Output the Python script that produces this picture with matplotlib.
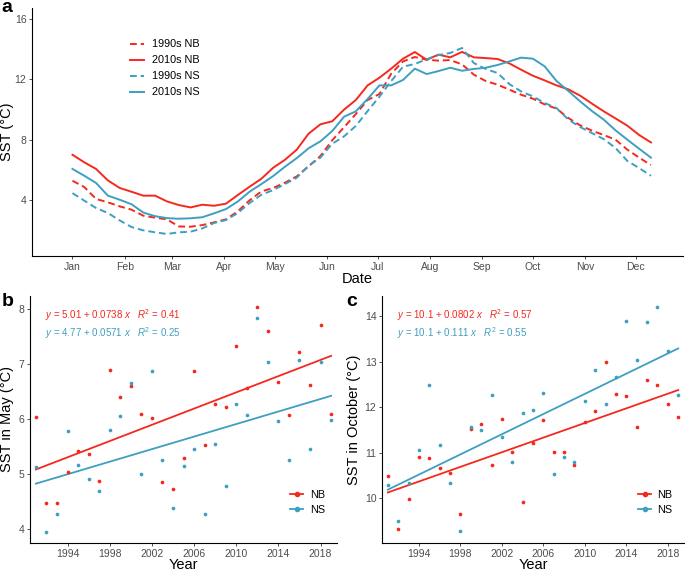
import numpy as np
import pandas as pd
import matplotlib
matplotlib.use("Agg")
import matplotlib.pyplot as plt
import matplotlib.dates as mdates
from matplotlib.lines import Line2D

RED = "#f5281e"
BLUE = "#3e9fc0"
TICK_GREY = "#4d4d4d"

# weekly climatology (50 weeks, starting 1 Jan)
weeks = pd.date_range("2019-01-01", periods=50, freq="7D")
nb_1990 = [5.28, 4.86, 4.07, 3.85, 3.58, 3.36, 2.96, 2.83, 2.72, 2.25,
           2.23, 2.34, 2.52, 2.72, 3.25, 3.98, 4.57, 4.80, 5.15, 5.57,
           6.23, 6.92, 7.96, 8.82, 9.70, 10.63, 11.03, 12.38, 13.19, 13.48,
           13.30, 13.24, 13.28, 12.99, 12.31, 11.89, 11.65, 11.32, 10.98, 10.72,
           10.34, 10.06, 9.44, 8.95, 8.60, 8.31, 8.00, 7.34, 6.81, 6.32]
nb_2010 = [7.00, 6.50, 6.06, 5.30, 4.80, 4.55, 4.29, 4.29, 3.91, 3.67,
           3.51, 3.69, 3.62, 3.76, 4.33, 4.88, 5.41, 6.14, 6.67, 7.34,
           8.40, 9.02, 9.22, 9.99, 10.63, 11.60, 12.11, 12.71, 13.37, 13.81,
           13.30, 13.64, 13.46, 13.82, 13.46, 13.41, 13.35, 13.06, 12.64, 12.24,
           11.93, 11.60, 11.34, 10.92, 10.39, 9.88, 9.41, 8.93, 8.31, 7.82]
ns_1990 = [4.46, 3.96, 3.47, 3.14, 2.65, 2.21, 1.99, 1.86, 1.75, 1.86,
           1.90, 2.12, 2.48, 2.67, 3.14, 3.80, 4.35, 4.66, 5.06, 5.48,
           6.28, 6.81, 7.73, 8.22, 8.91, 9.90, 10.85, 11.89, 12.84, 13.02,
           13.33, 13.61, 13.75, 14.08, 13.08, 12.69, 12.42, 11.69, 11.20, 10.87,
           10.43, 10.10, 9.33, 8.84, 8.44, 8.04, 7.45, 6.59, 6.12, 5.61]
ns_2010 = [6.06, 5.61, 5.13, 4.29, 4.02, 3.72, 3.17, 2.93, 2.80, 2.76,
           2.79, 2.86, 3.12, 3.40, 3.90, 4.55, 5.06, 5.59, 6.21, 6.78,
           7.43, 7.89, 8.57, 9.52, 9.88, 10.70, 11.60, 11.60, 11.96, 12.71,
           12.35, 12.55, 12.77, 12.57, 12.69, 12.77, 12.95, 13.19, 13.44, 13.37,
           12.86, 11.89, 11.23, 10.54, 9.90, 9.33, 8.62, 8.00, 7.40, 6.81]

# yearly means
years = np.arange(1991, 2020)
may_nb = [6.04, 4.48, 4.47, 5.03, 5.43, 5.37, 4.88, 6.90, 6.41, 6.61,
          6.09, 6.03, 4.85, 4.73, 5.30, 6.87, 5.53, 6.28, 6.22, 7.33,
          6.56, 8.04, 7.61, 6.68, 6.08, 7.22, 6.62, 7.72, 6.09]
may_ns = [5.13, 3.95, 4.28, 5.79, 5.17, 4.92, 4.69, 5.81, 6.05, 6.66,
          5.01, 6.87, 5.25, 4.38, 5.14, 5.45, 4.27, 5.55, 4.79, 6.28,
          6.08, 7.84, 7.05, 5.96, 5.25, 7.07, 5.45, 7.04, 5.98]
oct_nb = [10.50, 9.32, 9.99, 10.90, 10.88, 10.67, 10.55, 9.66, 11.53, 11.63,
          10.74, 11.74, 11.02, 9.93, 11.21, 11.72, 11.02, 11.01, 10.74, 11.69,
          11.92, 12.99, 12.30, 12.26, 11.57, 12.60, 12.50, 12.07, 11.78]
oct_ns = [10.30, 9.50, 10.33, 11.06, 12.49, 11.18, 10.35, 9.28, 11.56, 11.50,
          12.27, 11.35, 10.80, 11.88, 11.94, 12.31, 10.54, 10.91, 10.80, 12.15,
          12.82, 12.07, 12.67, 13.89, 13.04, 13.87, 14.21, 13.23, 12.28]

may_eqs = [r"$y$ = 5.01 + 0.0738 $x$   $R^2$ = 0.41",
           r"$y$ = 4.77 + 0.0571 $x$   $R^2$ = 0.25"]
oct_eqs = [r"$y$ = 10.1 + 0.0802 $x$   $R^2$ = 0.57",
           r"$y$ = 10.1 + 0.111 $x$   $R^2$ = 0.55"]

plt.rcParams["font.family"] = ["Liberation Sans", "DejaVu Sans"]
plt.rcParams["mathtext.fontset"] = "custom"
plt.rcParams["mathtext.rm"] = "Liberation Sans"
plt.rcParams["mathtext.it"] = "Liberation Sans:italic"


def style_axes(ax):
    for s in ["top", "right"]:
        ax.spines[s].set_visible(False)
    for s in ["left", "bottom"]:
        ax.spines[s].set_linewidth(0.8)
        ax.spines[s].set_color("black")
    ax.tick_params(length=2.5, width=0.6, color="#333333", pad=1.5,
                   labelsize=7.5, labelcolor=TICK_GREY)


def year_panel(ax, nb, ns, eqs, ylabel, ylim, yticks, ylab_x):
    style_axes(ax)
    for vals, col in [(nb, RED), (ns, BLUE)]:
        ax.scatter(years, vals, s=7, color=col, zorder=3, linewidths=0)
        k, b = np.polyfit(years, vals, 1)
        ax.plot(years, k * years + b, color=col, lw=1.3)
    ax.set_xlim(1990.44, 2019.56)
    ax.set_ylim(*ylim)
    ax.set_xticks([1994, 1998, 2002, 2006, 2010, 2014, 2018])
    ax.set_yticks(yticks)
    ax.set_xlabel("Year", fontsize=10.5)
    ax.set_ylabel(ylabel, fontsize=10.5)
    ax.xaxis.set_label_coords(0.5, -0.062)
    ax.yaxis.set_label_coords(ylab_x, 0.5)
    ax.text(0.05, 0.923, eqs[0], transform=ax.transAxes, color=RED,
            fontsize=7.0, va="center")
    ax.text(0.05, 0.849, eqs[1], transform=ax.transAxes, color=BLUE,
            fontsize=7.0, va="center")
    handles = [Line2D([], [], color=RED, lw=1.3, marker="o", markersize=3),
               Line2D([], [], color=BLUE, lw=1.3, marker="o", markersize=3)]
    ax.legend(handles, ["NB", "NS"], loc="upper left",
              bbox_to_anchor=(0.848, 0.215), frameon=False, fontsize=7.8,
              handlelength=1.2, handletextpad=0.6, labelspacing=0.45,
              borderpad=0, borderaxespad=0, numpoints=1)


def main():
    fig = plt.figure(figsize=(6.85, 5.72), dpi=100)

    # panel a
    ax = fig.add_axes([32 / 685, 1 - 256 / 572, 651 / 685, 248 / 572])
    style_axes(ax)
    dash = (3.5, 2)
    ax.plot(weeks, nb_1990, color=RED, lw=1.4, dashes=dash, label="1990s NB")
    ax.plot(weeks, nb_2010, color=RED, lw=1.4, label="2010s NB")
    ax.plot(weeks, ns_1990, color=BLUE, lw=1.4, dashes=dash, label="1990s NS")
    ax.plot(weeks, ns_2010, color=BLUE, lw=1.4, label="2010s NS")
    ax.set_xlim(pd.Timestamp("2018-12-08"), pd.Timestamp("2019-12-29"))
    ax.set_ylim(0.29, 16.73)
    ax.set_yticks([4, 8, 12, 16])
    ax.xaxis.set_major_locator(mdates.MonthLocator())
    ax.xaxis.set_major_formatter(mdates.DateFormatter("%b"))
    ax.set_xlabel("Date", fontsize=10.5)
    ax.set_ylabel("SST (°C)", fontsize=10.5)
    ax.xaxis.set_label_coords(0.5, -0.066)
    ax.yaxis.set_label_coords(-0.028, 0.5)
    ax.legend(loc="upper left", bbox_to_anchor=(0.1505, 0.873), frameon=False,
              fontsize=7.8, handlelength=1.3, handletextpad=0.75,
              labelspacing=0.55, borderpad=0, borderaxespad=0)

    # panel b
    axb = fig.add_axes([30 / 685, 1 - 543 / 572, 307 / 685, 247 / 572])
    year_panel(axb, may_nb, may_ns, may_eqs, "SST in May (°C)",
               (3.745, 8.245), [4, 5, 6, 7, 8], -0.052)

    # panel c
    axc = fig.add_axes([382 / 685, 1 - 543 / 572, 302 / 685, 247 / 572])
    year_panel(axc, oct_nb, oct_ns, oct_eqs, "SST in October (°C)",
               (9.02, 14.45), [10, 11, 12, 13, 14], -0.071)

    for x, y, lab in [(1, 12, "a"), (2, 306, "b"), (346, 306, "c")]:
        fig.text(x / 685, 1 - y / 572, lab, fontsize=14, fontweight="bold",
                 ha="left", va="baseline")

    fig.savefig("out.png", dpi=100)
    plt.close(fig)


if __name__ == "__main__":
    main()
